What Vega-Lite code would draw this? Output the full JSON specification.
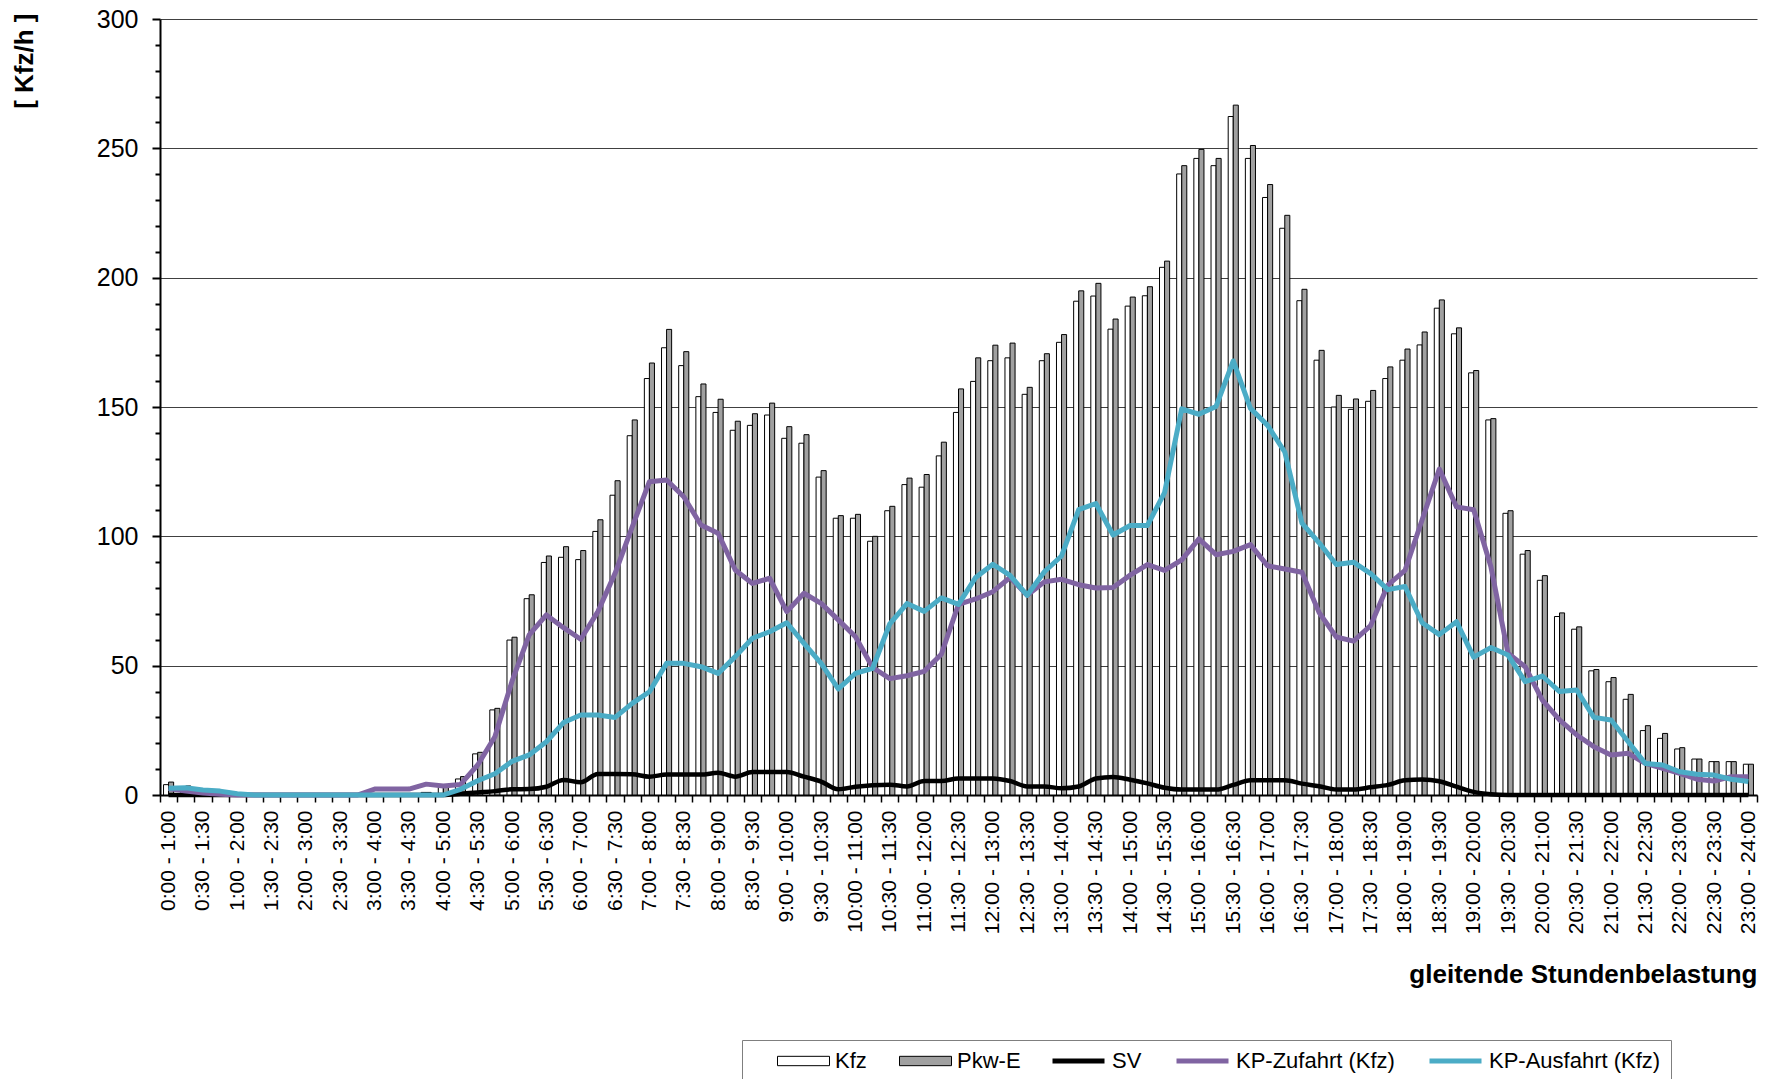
{
  "$schema": "https://vega.github.io/schema/vega-lite/v6.json",
  "width": 1597,
  "height": 776,
  "autosize": {"type": "none"},
  "padding": {"left": 160, "top": 19, "right": 10, "bottom": 284},
  "background": "white",
  "config": {"view": {"stroke": null}, "font": "Liberation Sans"},
  "resolve": {"axis": {"y": "independent"}},
  "datasets": {"rows": [
    {"t": "0:00 - 1:00", "Kfz": 4, "PkwE": 5, "SV": 0, "Zu": 2.5, "Aus": 2.6},
    {"t": "0:15 - 1:15", "Kfz": 3, "PkwE": 3.5, "SV": 0, "Zu": 1.5, "Aus": 2.8},
    {"t": "0:30 - 1:30", "Kfz": 2.5, "PkwE": 2.5, "SV": 0, "Zu": 0.8, "Aus": 1.9},
    {"t": "0:45 - 1:45", "Kfz": 1, "PkwE": 1, "SV": 0, "Zu": 0.3, "Aus": 1.5},
    {"t": "1:00 - 2:00", "Kfz": 0, "PkwE": 0, "SV": 0, "Zu": 0, "Aus": 0.5},
    {"t": "1:15 - 2:15", "Kfz": 0, "PkwE": 0, "SV": 0, "Zu": 0, "Aus": 0},
    {"t": "1:30 - 2:30", "Kfz": 0, "PkwE": 0, "SV": 0, "Zu": 0, "Aus": 0},
    {"t": "1:45 - 2:45", "Kfz": 0, "PkwE": 0, "SV": 0, "Zu": 0, "Aus": 0},
    {"t": "2:00 - 3:00", "Kfz": 0, "PkwE": 0, "SV": 0, "Zu": 0, "Aus": 0},
    {"t": "2:15 - 3:15", "Kfz": 0, "PkwE": 0, "SV": 0, "Zu": 0, "Aus": 0},
    {"t": "2:30 - 3:30", "Kfz": 0, "PkwE": 0, "SV": 0, "Zu": 0, "Aus": 0},
    {"t": "2:45 - 3:45", "Kfz": 0, "PkwE": 0, "SV": 0, "Zu": 0, "Aus": 0},
    {"t": "3:00 - 4:00", "Kfz": 0, "PkwE": 0, "SV": 0, "Zu": 2.3, "Aus": 0},
    {"t": "3:15 - 4:15", "Kfz": 0, "PkwE": 0, "SV": 0, "Zu": 2.3, "Aus": 0},
    {"t": "3:30 - 4:30", "Kfz": 0, "PkwE": 0, "SV": 0, "Zu": 2.3, "Aus": 0},
    {"t": "3:45 - 4:45", "Kfz": 1, "PkwE": 1, "SV": 0, "Zu": 4.2, "Aus": 0},
    {"t": "4:00 - 5:00", "Kfz": 3, "PkwE": 3.5, "SV": 0, "Zu": 3.5, "Aus": 0},
    {"t": "4:15 - 5:15", "Kfz": 6.2, "PkwE": 7.1, "SV": 0.5, "Zu": 4.1, "Aus": 2.2},
    {"t": "4:30 - 5:30", "Kfz": 15.9, "PkwE": 16.5, "SV": 1, "Zu": 11.6, "Aus": 5.5},
    {"t": "4:45 - 5:45", "Kfz": 32.9, "PkwE": 33.5, "SV": 1.5, "Zu": 22.5, "Aus": 8.2},
    {"t": "5:00 - 6:00", "Kfz": 59.9, "PkwE": 61, "SV": 2.2, "Zu": 44, "Aus": 13},
    {"t": "5:15 - 6:15", "Kfz": 75.9, "PkwE": 77.4, "SV": 2.3, "Zu": 61.9, "Aus": 15.5},
    {"t": "5:30 - 6:30", "Kfz": 89.9, "PkwE": 92.4, "SV": 3.2, "Zu": 69.6, "Aus": 20.6},
    {"t": "5:45 - 6:45", "Kfz": 91.9, "PkwE": 96, "SV": 5.8, "Zu": 64.7, "Aus": 28},
    {"t": "6:00 - 7:00", "Kfz": 91, "PkwE": 94.5, "SV": 4.9, "Zu": 60.2, "Aus": 30.9},
    {"t": "6:15 - 7:15", "Kfz": 101.9, "PkwE": 106.4, "SV": 8.1, "Zu": 70.9, "Aus": 30.9},
    {"t": "6:30 - 7:30", "Kfz": 115.9, "PkwE": 121.5, "SV": 8.1, "Zu": 85.7, "Aus": 30},
    {"t": "6:45 - 7:45", "Kfz": 138.9, "PkwE": 145, "SV": 8, "Zu": 103.7, "Aus": 35.4},
    {"t": "7:00 - 8:00", "Kfz": 161, "PkwE": 167, "SV": 7.1, "Zu": 121.1, "Aus": 39.9},
    {"t": "7:15 - 8:15", "Kfz": 172.9, "PkwE": 180, "SV": 7.9, "Zu": 121.8, "Aus": 50.9},
    {"t": "7:30 - 8:30", "Kfz": 166, "PkwE": 171.4, "SV": 7.9, "Zu": 115.3, "Aus": 50.9},
    {"t": "7:45 - 8:45", "Kfz": 154, "PkwE": 158.9, "SV": 7.9, "Zu": 104.4, "Aus": 49.6},
    {"t": "8:00 - 9:00", "Kfz": 147.9, "PkwE": 153, "SV": 8.6, "Zu": 101.2, "Aus": 47},
    {"t": "8:15 - 9:15", "Kfz": 141, "PkwE": 144.5, "SV": 7.1, "Zu": 87, "Aus": 53.5},
    {"t": "8:30 - 9:30", "Kfz": 142.9, "PkwE": 147.4, "SV": 8.9, "Zu": 81.8, "Aus": 60.6},
    {"t": "8:45 - 9:45", "Kfz": 146.9, "PkwE": 151.5, "SV": 8.9, "Zu": 83.8, "Aus": 63.1},
    {"t": "9:00 - 10:00", "Kfz": 137.9, "PkwE": 142.4, "SV": 8.9, "Zu": 70.9, "Aus": 66.6},
    {"t": "9:15 - 10:15", "Kfz": 136, "PkwE": 139.3, "SV": 7.1, "Zu": 78, "Aus": 58.6},
    {"t": "9:30 - 10:30", "Kfz": 122.9, "PkwE": 125.4, "SV": 5.2, "Zu": 74.1, "Aus": 50.9},
    {"t": "9:45 - 10:45", "Kfz": 107, "PkwE": 108, "SV": 2.2, "Zu": 67.7, "Aus": 41},
    {"t": "10:00 - 11:00", "Kfz": 107, "PkwE": 108.5, "SV": 3.2, "Zu": 61.2, "Aus": 47},
    {"t": "10:15 - 11:15", "Kfz": 98.1, "PkwE": 100, "SV": 3.8, "Zu": 49.3, "Aus": 49},
    {"t": "10:30 - 11:30", "Kfz": 109.9, "PkwE": 111.6, "SV": 4, "Zu": 45, "Aus": 66.2},
    {"t": "10:45 - 11:45", "Kfz": 120, "PkwE": 122.5, "SV": 3.3, "Zu": 46.1, "Aus": 74},
    {"t": "11:00 - 12:00", "Kfz": 119, "PkwE": 123.9, "SV": 5.4, "Zu": 47.8, "Aus": 71},
    {"t": "11:15 - 12:15", "Kfz": 131.1, "PkwE": 136.4, "SV": 5.4, "Zu": 54.4, "Aus": 76.2},
    {"t": "11:30 - 12:30", "Kfz": 147.9, "PkwE": 157, "SV": 6.4, "Zu": 73.7, "Aus": 73.7},
    {"t": "11:45 - 12:45", "Kfz": 159.9, "PkwE": 169, "SV": 6.4, "Zu": 75.8, "Aus": 84.1},
    {"t": "12:00 - 13:00", "Kfz": 167.9, "PkwE": 173.9, "SV": 6.4, "Zu": 78.6, "Aus": 89.2},
    {"t": "12:15 - 13:15", "Kfz": 169, "PkwE": 174.7, "SV": 5.4, "Zu": 84.1, "Aus": 84.9},
    {"t": "12:30 - 13:30", "Kfz": 154.9, "PkwE": 157.6, "SV": 3.3, "Zu": 77.2, "Aus": 77.2},
    {"t": "12:45 - 13:45", "Kfz": 167.9, "PkwE": 170.6, "SV": 3.3, "Zu": 82.4, "Aus": 86.3},
    {"t": "13:00 - 14:00", "Kfz": 175, "PkwE": 178, "SV": 2.6, "Zu": 83.4, "Aus": 92.4},
    {"t": "13:15 - 14:15", "Kfz": 190.9, "PkwE": 194.9, "SV": 3.3, "Zu": 81.3, "Aus": 110.3},
    {"t": "13:30 - 14:30", "Kfz": 192.9, "PkwE": 197.8, "SV": 6.4, "Zu": 80, "Aus": 112.7},
    {"t": "13:45 - 14:45", "Kfz": 180.1, "PkwE": 184, "SV": 7, "Zu": 80.2, "Aus": 100.5},
    {"t": "14:00 - 15:00", "Kfz": 189, "PkwE": 192.5, "SV": 5.9, "Zu": 85, "Aus": 104.2},
    {"t": "14:15 - 15:15", "Kfz": 193, "PkwE": 196.5, "SV": 4.5, "Zu": 89.1, "Aus": 104.2},
    {"t": "14:30 - 15:30", "Kfz": 204, "PkwE": 206.4, "SV": 2.8, "Zu": 86.8, "Aus": 116.9},
    {"t": "14:45 - 15:45", "Kfz": 240.1, "PkwE": 243.3, "SV": 2.1, "Zu": 90.9, "Aus": 149.3},
    {"t": "15:00 - 16:00", "Kfz": 246.1, "PkwE": 249.6, "SV": 2.1, "Zu": 99, "Aus": 147.2},
    {"t": "15:15 - 16:15", "Kfz": 243.3, "PkwE": 246.1, "SV": 2.1, "Zu": 92.9, "Aus": 150.2},
    {"t": "15:30 - 16:30", "Kfz": 262.3, "PkwE": 266.7, "SV": 3.9, "Zu": 94.2, "Aus": 167.8},
    {"t": "15:45 - 16:45", "Kfz": 246.1, "PkwE": 251.1, "SV": 5.7, "Zu": 96.8, "Aus": 149.5},
    {"t": "16:00 - 17:00", "Kfz": 231, "PkwE": 236, "SV": 5.7, "Zu": 88.6, "Aus": 142.9},
    {"t": "16:15 - 17:15", "Kfz": 219.1, "PkwE": 224.1, "SV": 5.7, "Zu": 87.4, "Aus": 132.6},
    {"t": "16:30 - 17:30", "Kfz": 191.1, "PkwE": 195.5, "SV": 4.4, "Zu": 86.1, "Aus": 105.1},
    {"t": "16:45 - 17:45", "Kfz": 168.1, "PkwE": 171.9, "SV": 3.4, "Zu": 70.5, "Aus": 97.5},
    {"t": "17:00 - 18:00", "Kfz": 150, "PkwE": 154.5, "SV": 2.1, "Zu": 61.1, "Aus": 89.1},
    {"t": "17:15 - 18:15", "Kfz": 149.1, "PkwE": 153.1, "SV": 2.1, "Zu": 59.5, "Aus": 90},
    {"t": "17:30 - 18:30", "Kfz": 152.2, "PkwE": 156.4, "SV": 3, "Zu": 65.5, "Aus": 85.6},
    {"t": "17:45 - 18:45", "Kfz": 161, "PkwE": 165.5, "SV": 3.9, "Zu": 81.1, "Aus": 79.4},
    {"t": "18:00 - 19:00", "Kfz": 168.1, "PkwE": 172.4, "SV": 5.7, "Zu": 86.8, "Aus": 80.6},
    {"t": "18:15 - 19:15", "Kfz": 174, "PkwE": 179, "SV": 6, "Zu": 106.4, "Aus": 66.6},
    {"t": "18:30 - 19:30", "Kfz": 188.2, "PkwE": 191.4, "SV": 5.3, "Zu": 126, "Aus": 62},
    {"t": "18:45 - 19:45", "Kfz": 178.3, "PkwE": 180.6, "SV": 3.2, "Zu": 111.4, "Aus": 67},
    {"t": "19:00 - 20:00", "Kfz": 163.2, "PkwE": 164.1, "SV": 1.2, "Zu": 110.3, "Aus": 53.3},
    {"t": "19:15 - 20:15", "Kfz": 145, "PkwE": 145.5, "SV": 0.3, "Zu": 88.3, "Aus": 57},
    {"t": "19:30 - 20:30", "Kfz": 108.9, "PkwE": 109.9, "SV": 0, "Zu": 54.8, "Aus": 54.1},
    {"t": "19:45 - 20:45", "Kfz": 93.1, "PkwE": 94.5, "SV": 0, "Zu": 49.6, "Aus": 43.8},
    {"t": "20:00 - 21:00", "Kfz": 83, "PkwE": 84.8, "SV": 0, "Zu": 36.7, "Aus": 46},
    {"t": "20:15 - 21:15", "Kfz": 69, "PkwE": 70.4, "SV": 0, "Zu": 29, "Aus": 40},
    {"t": "20:30 - 21:30", "Kfz": 64.1, "PkwE": 65, "SV": 0, "Zu": 23.2, "Aus": 40.6},
    {"t": "20:45 - 21:45", "Kfz": 48, "PkwE": 48.5, "SV": 0, "Zu": 18.7, "Aus": 30},
    {"t": "21:00 - 22:00", "Kfz": 43.8, "PkwE": 45.4, "SV": 0, "Zu": 15.5, "Aus": 29},
    {"t": "21:15 - 22:15", "Kfz": 37, "PkwE": 38.9, "SV": 0, "Zu": 16.1, "Aus": 20.6},
    {"t": "21:30 - 22:30", "Kfz": 24.9, "PkwE": 26.8, "SV": 0, "Zu": 12.2, "Aus": 12.2},
    {"t": "21:45 - 22:45", "Kfz": 21.9, "PkwE": 23.8, "SV": 0, "Zu": 10.3, "Aus": 11.6},
    {"t": "22:00 - 23:00", "Kfz": 17.8, "PkwE": 18.3, "SV": 0, "Zu": 8.4, "Aus": 9},
    {"t": "22:15 - 23:15", "Kfz": 13.9, "PkwE": 13.9, "SV": 0, "Zu": 6.1, "Aus": 8},
    {"t": "22:30 - 23:30", "Kfz": 12.9, "PkwE": 12.9, "SV": 0, "Zu": 5.4, "Aus": 7.7},
    {"t": "22:45 - 23:45", "Kfz": 12.9, "PkwE": 12.9, "SV": 0, "Zu": 7.1, "Aus": 6.1},
    {"t": "23:00 - 24:00", "Kfz": 11.9, "PkwE": 11.9, "SV": 0, "Zu": 7.1, "Aus": 5.2}
  ]},
  "data": {"name": "rows"},
  "layer": [
    {
      "transform": [{"fold": ["Kfz", "PkwE"], "as": ["series", "value"]}],
      "mark": {"type": "bar", "stroke": "black", "strokeWidth": 1},
      "encoding": {
        "x": {
          "field": "t", "type": "ordinal", "sort": null,
          "scale": {"type": "band", "paddingInner": 0, "paddingOuter": 0},
          "axis": {
            "labelExpr": "indexof(datum.label, ':15 ') >= 0 || indexof(datum.label, ':45 ') >= 0 ? '' : datum.label",
            "labelAngle": 270, "labelAlign": "right", "labelBaseline": "middle",
            "labelFontSize": 21, "labelColor": "black", "labelPadding": 8, "labelOverlap": false,
            "tickBand": "extent", "ticks": true, "tickSize": 7, "tickWidth": 1.5, "tickColor": "black",
            "domainColor": "black", "domainWidth": 2, "grid": false,
            "title": "gleitende Stundenbelastung", "titleFontSize": 26, "titleFontWeight": "bold",
            "titleColor": "black", "titleAnchor": "end", "titleAlign": "right",
            "titleBaseline": "alphabetic", "titleX": 1597, "titleY": 187
          }
        },
        "xOffset": {"field": "series", "type": "nominal", "sort": ["Kfz", "PkwE"], "scale": {"paddingOuter": 0.7, "paddingInner": 0}},
        "y": {
          "field": "value", "type": "quantitative",
          "scale": {"domain": [0, 300], "nice": false, "zero": true},
          "axis": {
            "orient": "left",
            "values": [0, 50, 100, 150, 200, 250, 300],
            "labelOverlap": false,
            "labelFontSize": 25, "labelColor": "black", "labelPadding": 14,
            "tickSize": 8, "tickWidth": 2, "tickColor": "black",
            "domainColor": "black", "domainWidth": 2,
            "grid": true, "gridColor": "#404040", "gridWidth": 1,
            "title": "[ Kfz/h ]", "titleFontSize": 26, "titleFontWeight": "bold", "titleColor": "black",
            "titleAngle": 270, "titleAlign": "right", "titleBaseline": "alphabetic",
            "titleX": -128, "titleY": -6
          }
        },
        "fill": {
          "field": "series", "type": "nominal",
          "scale": {"domain": ["Kfz", "PkwE"], "range": ["#FFFFFF", "#A0A0A0"]},
          "legend": {
            "title": null, "orient": "none", "legendX": 617, "legendY": 1031,
            "direction": "horizontal", "columns": 2,
            "labelExpr": "datum.label === 'PkwE' ? 'Pkw-E' : datum.label",
            "labelFontSize": 22, "labelColor": "black", "labelLimit": 400, "labelOffset": 5,
            "symbolType": "M-1,-0.18H1V0.18H-1Z", "symbolSize": 2704, "symbolStrokeColor": "black", "symbolStrokeWidth": 1,
            "clipHeight": 22, "columnPadding": 32, "padding": 0, "zindex": 2
          }
        }
      }
    },
    {
      "transform": [{"fold": ["SV"], "as": ["series", "value"]}],
      "mark": {"type": "line", "strokeWidth": 4.5, "interpolate": "monotone", "strokeJoin": "round"},
      "encoding": {
        "x": {"field": "t", "type": "ordinal", "sort": null, "scale": {"type": "band", "paddingInner": 0, "paddingOuter": 0}},
        "y": {
          "field": "value", "type": "quantitative",
          "scale": {"domain": [0, 300], "nice": false, "zero": true},
          "axis": {
            "orient": "left",
            "values": [10, 20, 30, 40, 60, 70, 80, 90, 110, 120, 130, 140, 160, 170, 180, 190, 210, 220, 230, 240, 260, 270, 280, 290],
            "labels": false, "grid": false, "domain": false, "title": null,
            "tickSize": 5, "tickWidth": 2, "tickColor": "black"
          }
        },
        "stroke": {"field": "series", "type": "nominal", "scale": {"domain": ["SV", "Zu", "Aus"], "range": ["#000000", "#8064A2", "#4BACC6"]}}
      }
    },
    {
      "transform": [{"fold": ["Zu"], "as": ["series", "value"]}],
      "mark": {"type": "line", "strokeWidth": 5, "strokeJoin": "round"},
      "encoding": {
        "x": {"field": "t", "type": "ordinal", "sort": null, "scale": {"type": "band", "paddingInner": 0, "paddingOuter": 0}},
        "y": {"field": "value", "type": "quantitative", "scale": {"domain": [0, 300], "nice": false, "zero": true}, "axis": null},
        "stroke": {"field": "series", "type": "nominal", "scale": {"domain": ["SV", "Zu", "Aus"], "range": ["#000000", "#8064A2", "#4BACC6"]}}
      }
    },
    {
      "transform": [{"fold": ["Aus"], "as": ["series", "value"]}],
      "mark": {"type": "line", "strokeWidth": 5, "strokeJoin": "round"},
      "encoding": {
        "x": {"field": "t", "type": "ordinal", "sort": null, "scale": {"type": "band", "paddingInner": 0, "paddingOuter": 0}},
        "y": {"field": "value", "type": "quantitative", "scale": {"domain": [0, 300], "nice": false, "zero": true}, "axis": null},
        "stroke": {
          "field": "series", "type": "nominal",
          "scale": {"domain": ["SV", "Zu", "Aus"], "range": ["#000000", "#8064A2", "#4BACC6"]},
          "legend": {
            "title": " ", "titleOrient": "left", "titlePadding": 298, "titleFontSize": 10,
            "orient": "none", "legendX": 582, "legendY": 1021,
            "direction": "horizontal", "columns": 3,
            "labelExpr": "datum.label === 'Zu' ? 'KP-Zufahrt (Kfz)' : datum.label === 'Aus' ? 'KP-Ausfahrt (Kfz)' : datum.label",
            "labelFontSize": 22, "labelColor": "black", "labelLimit": 400, "labelOffset": 5,
            "symbolType": "M-1,0H1", "symbolSize": 2704, "symbolStrokeWidth": 5,
            "clipHeight": 22, "columnPadding": 32, "padding": 10,
            "strokeColor": "#7F7F7F", "fillColor": null, "zindex": 1
          }
        }
      }
    }
  ]
}
